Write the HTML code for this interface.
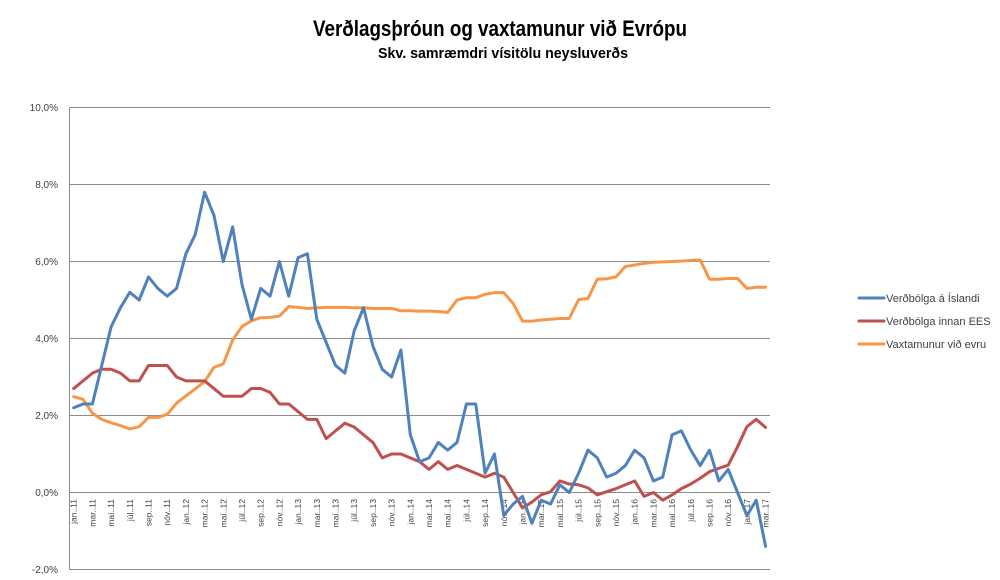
<!DOCTYPE html>
<html>
<head>
<meta charset="utf-8">
<style>
html,body{margin:0;padding:0;background:#fff;}
svg{display:block;}
text{font-family:"Liberation Sans",Arial,sans-serif;}
</style>
</head>
<body>
<svg width="1000" height="580" viewBox="0 0 1000 580" xmlns="http://www.w3.org/2000/svg">
<rect x="0" y="0" width="1000" height="580" fill="#fff"/>
<!-- Titles -->
<text x="500" y="36" text-anchor="middle" font-size="22" font-weight="bold" fill="#000" textLength="374" lengthAdjust="spacingAndGlyphs">Verðlagsþróun og vaxtamunur við Evrópu</text>
<text x="503" y="58" text-anchor="middle" font-size="15" font-weight="bold" fill="#000" textLength="250" lengthAdjust="spacingAndGlyphs">Skv. samræmdri vísitölu neysluverðs</text>

<!-- Gridlines -->
<g stroke="#8c8c8c" stroke-width="1" fill="none">
<line x1="69.5" y1="107.5" x2="770" y2="107.5"/>
<line x1="69.5" y1="184.5" x2="770" y2="184.5"/>
<line x1="69.5" y1="261.5" x2="770" y2="261.5"/>
<line x1="69.5" y1="338.5" x2="770" y2="338.5"/>
<line x1="69.5" y1="415.5" x2="770" y2="415.5"/>
<line x1="69.5" y1="492.5" x2="770" y2="492.5"/>
<line x1="69.5" y1="569.5" x2="770" y2="569.5"/>
<line x1="69.5" y1="107.5" x2="69.5" y2="569.5"/>
</g>

<!-- Y labels -->
<g font-size="10" fill="#404040" text-anchor="end">
<text x="58" y="111">10,0%</text>
<text x="58" y="188">8,0%</text>
<text x="58" y="265">6,0%</text>
<text x="58" y="342">4,0%</text>
<text x="58" y="419">2,0%</text>
<text x="58" y="496">0,0%</text>
<text x="58" y="573">-2,0%</text>
</g>

<!-- X labels -->
<g font-size="8.5" fill="#404040" text-anchor="end">
<text transform="translate(76.7,499) rotate(-90)">jan..11</text>
<text transform="translate(95.4,499) rotate(-90)">mar..11</text>
<text transform="translate(114.1,499) rotate(-90)">maí..11</text>
<text transform="translate(132.8,499) rotate(-90)">júl..11</text>
<text transform="translate(151.5,499) rotate(-90)">sep..11</text>
<text transform="translate(170.2,499) rotate(-90)">nóv..11</text>
<text transform="translate(188.9,499) rotate(-90)">jan..12</text>
<text transform="translate(207.6,499) rotate(-90)">mar..12</text>
<text transform="translate(226.3,499) rotate(-90)">maí..12</text>
<text transform="translate(245.0,499) rotate(-90)">júl..12</text>
<text transform="translate(263.7,499) rotate(-90)">sep..12</text>
<text transform="translate(282.4,499) rotate(-90)">nóv..12</text>
<text transform="translate(301.1,499) rotate(-90)">jan..13</text>
<text transform="translate(319.8,499) rotate(-90)">mar..13</text>
<text transform="translate(338.5,499) rotate(-90)">maí..13</text>
<text transform="translate(357.2,499) rotate(-90)">júl..13</text>
<text transform="translate(375.9,499) rotate(-90)">sep..13</text>
<text transform="translate(394.6,499) rotate(-90)">nóv..13</text>
<text transform="translate(413.3,499) rotate(-90)">jan..14</text>
<text transform="translate(432.0,499) rotate(-90)">mar..14</text>
<text transform="translate(450.7,499) rotate(-90)">maí..14</text>
<text transform="translate(469.4,499) rotate(-90)">júl..14</text>
<text transform="translate(488.1,499) rotate(-90)">sep..14</text>
<text transform="translate(506.8,499) rotate(-90)">nóv..14</text>
<text transform="translate(525.5,499) rotate(-90)">jan..15</text>
<text transform="translate(544.2,499) rotate(-90)">mar..15</text>
<text transform="translate(562.9,499) rotate(-90)">maí..15</text>
<text transform="translate(581.6,499) rotate(-90)">júl..15</text>
<text transform="translate(600.3,499) rotate(-90)">sep..15</text>
<text transform="translate(619.0,499) rotate(-90)">nóv..15</text>
<text transform="translate(637.7,499) rotate(-90)">jan..16</text>
<text transform="translate(656.4,499) rotate(-90)">mar..16</text>
<text transform="translate(675.1,499) rotate(-90)">maí..16</text>
<text transform="translate(693.8,499) rotate(-90)">júl..16</text>
<text transform="translate(712.5,499) rotate(-90)">sep..16</text>
<text transform="translate(731.2,499) rotate(-90)">nóv..16</text>
<text transform="translate(749.9,499) rotate(-90)">jan..17</text>
<text transform="translate(768.6,499) rotate(-90)">mar..17</text>
</g>

<!-- Series -->
<g transform="translate(73.7,492.5) scale(9.35,-38.5)" fill="none" stroke-linejoin="round" stroke-linecap="round">
<polyline vector-effect="non-scaling-stroke" stroke="#f79646" stroke-width="3" points="0,2.49 1,2.42 2,2.06 3,1.9 4,1.81 5,1.74 6,1.65 7,1.71 8,1.95 9,1.95 10,2.03 11,2.32 12,2.51 13,2.69 14,2.88 15,3.25 16,3.34 17,3.96 18,4.31 19,4.46 20,4.54 21,4.55 22,4.58 23,4.83 24,4.81 25,4.78 26,4.8 27,4.81 28,4.81 29,4.81 30,4.8 31,4.8 32,4.78 33,4.78 34,4.78 35,4.72 36,4.72 37,4.71 38,4.71 39,4.7 40,4.68 41,5.0 42,5.06 43,5.06 44,5.15 45,5.19 46,5.19 47,4.91 48,4.45 49,4.45 50,4.48 51,4.5 52,4.52 53,4.52 54,5.01 55,5.04 56,5.54 57,5.55 58,5.6 59,5.87 60,5.91 61,5.95 62,5.98 63,5.99 64,6.0 65,6.01 66,6.03 67,6.04 68,5.54 69,5.54 70,5.56 71,5.56 72,5.3 73,5.33 74,5.33"/>
<polyline vector-effect="non-scaling-stroke" stroke="#c0504d" stroke-width="3" points="0,2.7 1,2.9 2,3.1 3,3.2 4,3.2 5,3.1 6,2.9 7,2.9 8,3.3 9,3.3 10,3.3 11,3.0 12,2.9 13,2.9 14,2.9 15,2.7 16,2.5 17,2.5 18,2.5 19,2.7 20,2.7 21,2.6 22,2.3 23,2.3 24,2.1 25,1.9 26,1.9 27,1.4 28,1.6 29,1.8 30,1.7 31,1.5 32,1.3 33,0.9 34,1.0 35,1.0 36,0.9 37,0.8 38,0.6 39,0.8 40,0.6 41,0.7 42,0.6 43,0.5 44,0.4 45,0.5 46,0.4 47,0.0 48,-0.4 49,-0.25 50,-0.06 51,0.02 52,0.3 53,0.22 54,0.2 55,0.12 56,-0.06 57,0.02 58,0.1 59,0.2 60,0.3 61,-0.1 62,0.0 63,-0.2 64,-0.06 65,0.1 66,0.22 67,0.37 68,0.54 69,0.63 70,0.71 71,1.19 72,1.71 73,1.9 74,1.69"/>
<polyline vector-effect="non-scaling-stroke" stroke="#4f81bd" stroke-width="3" points="0,2.2 1,2.3 2,2.3 3,3.3 4,4.3 5,4.8 6,5.2 7,5.0 8,5.6 9,5.3 10,5.1 11,5.3 12,6.2 13,6.7 14,7.8 15,7.2 16,6.0 17,6.9 18,5.4 19,4.5 20,5.3 21,5.1 22,6.0 23,5.1 24,6.1 25,6.2 26,4.5 27,3.9 28,3.3 29,3.1 30,4.2 31,4.8 32,3.8 33,3.2 34,3.0 35,3.7 36,1.5 37,0.8 38,0.9 39,1.3 40,1.1 41,1.3 42,2.3 43,2.3 44,0.5 45,1.0 46,-0.6 47,-0.3 48,-0.1 49,-0.8 50,-0.2 51,-0.3 52,0.2 53,0.0 54,0.5 55,1.1 56,0.9 57,0.4 58,0.5 59,0.7 60,1.1 61,0.9 62,0.3 63,0.4 64,1.5 65,1.6 66,1.1 67,0.7 68,1.1 69,0.3 70,0.6 71,0.0 72,-0.6 73,-0.2 74,-1.4"/>
</g>

<!-- Legend -->
<g stroke-width="3" stroke-linecap="round">
<line x1="859" y1="298" x2="884" y2="298" stroke="#4f81bd"/>
<line x1="859" y1="321" x2="884" y2="321" stroke="#c0504d"/>
<line x1="859" y1="344" x2="884" y2="344" stroke="#f79646"/>
</g>
<g font-size="11" fill="#404040">
<text x="886" y="302">Verðbólga á Íslandi</text>
<text x="886" y="325">Verðbólga innan EES</text>
<text x="886" y="348">Vaxtamunur við evru</text>
</g>
</svg>
</body>
</html>
